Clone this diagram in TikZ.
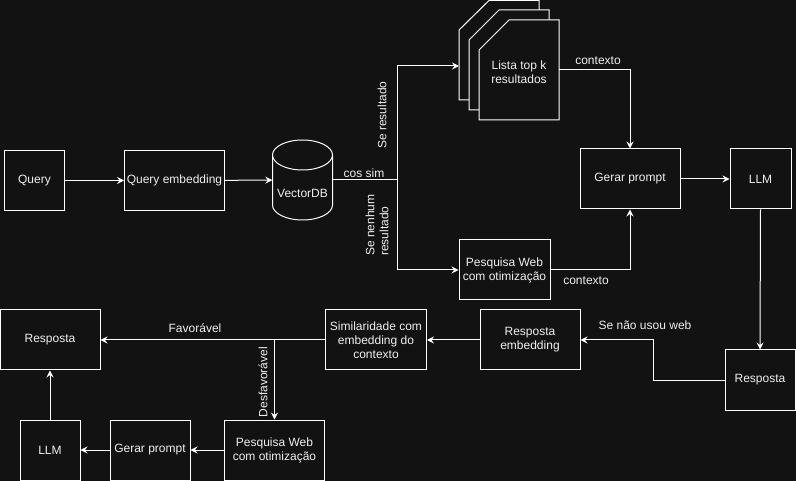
\documentclass[tikz,border=0pt]{standalone}
\usepackage{fontspec}
\setmainfont{Liberation Sans}
\usetikzlibrary{arrows.meta}
\definecolor{bg}{HTML}{121212}
\definecolor{txt}{HTML}{F0F0F0}
\begin{document}
\begin{tikzpicture}[x=1pt,y=-1pt,
  every node/.style={font=\fontsize{12}{14}\selectfont, text=txt},
  box/.style={draw=white, line width=1pt, fill=bg, minimum width=#1, minimum height=60, inner sep=1pt, align=center},
  box/.default=100,
  lbl/.style={inner sep=1pt, align=center},
  conn/.style={draw=white, line width=1pt},
  arr/.style={conn, -{Stealth[length=7pt,width=7pt,inset=2.5pt]}},
  doc/.style={draw=white, line width=1pt, fill=bg}]
\fill[bg] (0,0) rectangle (796,481);
\useasboundingbox (0,0) rectangle (796,481);

% top row
\node[box=60] (query) at (34.5,180.5) {Query};
\node[box=100] (qemb) at (174.5,180.5) {Query embedding};

% cylinder
\node[inner sep=0, minimum width=60, minimum height=80] (vdb) at (302.5,180) {};
\draw[doc] (272.5,155) -- (272.5,205) arc[start angle=180,end angle=360,x radius=30pt,y radius=15pt] -- (332.5,155);
\draw[doc] (302.5,155) ellipse [x radius=30pt, y radius=15pt];
\node[lbl] (vdbt) at (302.5,193) {VectorDB};

% stack of documents
\draw[doc] (459,30) -- (489,0.5) -- (539,0.5) -- (539,100) -- (459,100) -- cycle;
\draw[doc] (469,40) -- (499,10) -- (549,10) -- (549,110) -- (469,110) -- cycle;
\draw[doc] (479,50) -- (509,20) -- (559,20) -- (559,120) -- (479,120) -- cycle;
\node[inner sep=0, minimum width=80, minimum height=100] (lista) at (519,70) {};
\node[lbl] (listat) at (519,72) {Lista top k\\resultados};
\coordinate (stackin) at (459,66);

\node[box=100] (gp) at (630,179) {Gerar prompt};
\node[box=61] (llm) at (760.5,179) {LLM};
\node[box=91] (pesq1) at (504.5,270) {Pesquisa Web\\com otimização};

% bottom
\node[box=70] (resp1) at (760,380) {Resposta};
\node[box=100] (remb) at (530,340) {Resposta\\embedding};
\node[box=101] (sim) at (376,340) {Similaridade com\\embedding do\\contexto};
\node[box=100] (resp0) at (50,340) {Resposta};
\node[box=100] (pesq2) at (274.5,450) {Pesquisa Web\\com otimização};
\node[box=80] (gp2) at (150,450) {Gerar prompt};
\node[box=60] (llm2) at (50,450) {LLM};

% connectors
\draw[arr] (query) -- (qemb);
\draw[arr] (qemb) -- (vdb);
\coordinate (j1) at (397,180);
\draw[conn] (vdb.east) -- (j1);
\draw[arr] (j1) |- (stackin);
\draw[arr] (j1) |- (pesq1.west);
\draw[arr] (lista.east) -| (gp.north);
\draw[arr] (pesq1.east) -| (gp.south);
\draw[arr] (gp) -- (llm);
\draw[arr] (llm.south) -- (resp1.north);
\coordinate (j2) at (653,380);
\draw[arr] (resp1.west) -- (j2) |- (remb.east);
\draw[arr] (remb) -- (sim);
\draw[arr] (sim) -- (resp0);
\coordinate (j3) at (274.5,340);
\draw[arr] (j3) -- (pesq2.north);
\draw[arr] (pesq2) -- (gp2);
\draw[arr] (gp2) -- (llm2);
\draw[arr] (llm2) -- (resp0);

% labels
\node[lbl] (lcos) at (364,173) {cos sim};
\node[lbl, rotate=90] (lsr) at (382,115) {Se resultado};
\node[lbl, rotate=90, align=left] (lsn) at (377,225) {Se nenhum\\resultado};
\node[lbl] (lctx1) at (598,61) {contexto};
\node[lbl] (lctx2) at (586,281) {contexto};
\node[lbl] (lsnu) at (645,325) {Se não usou web};
\node[lbl] (lfav) at (195,328) {Favorável};
\node[lbl, rotate=90] (ldes) at (263,382) {Desfavorável};
\end{tikzpicture}
\end{document}
